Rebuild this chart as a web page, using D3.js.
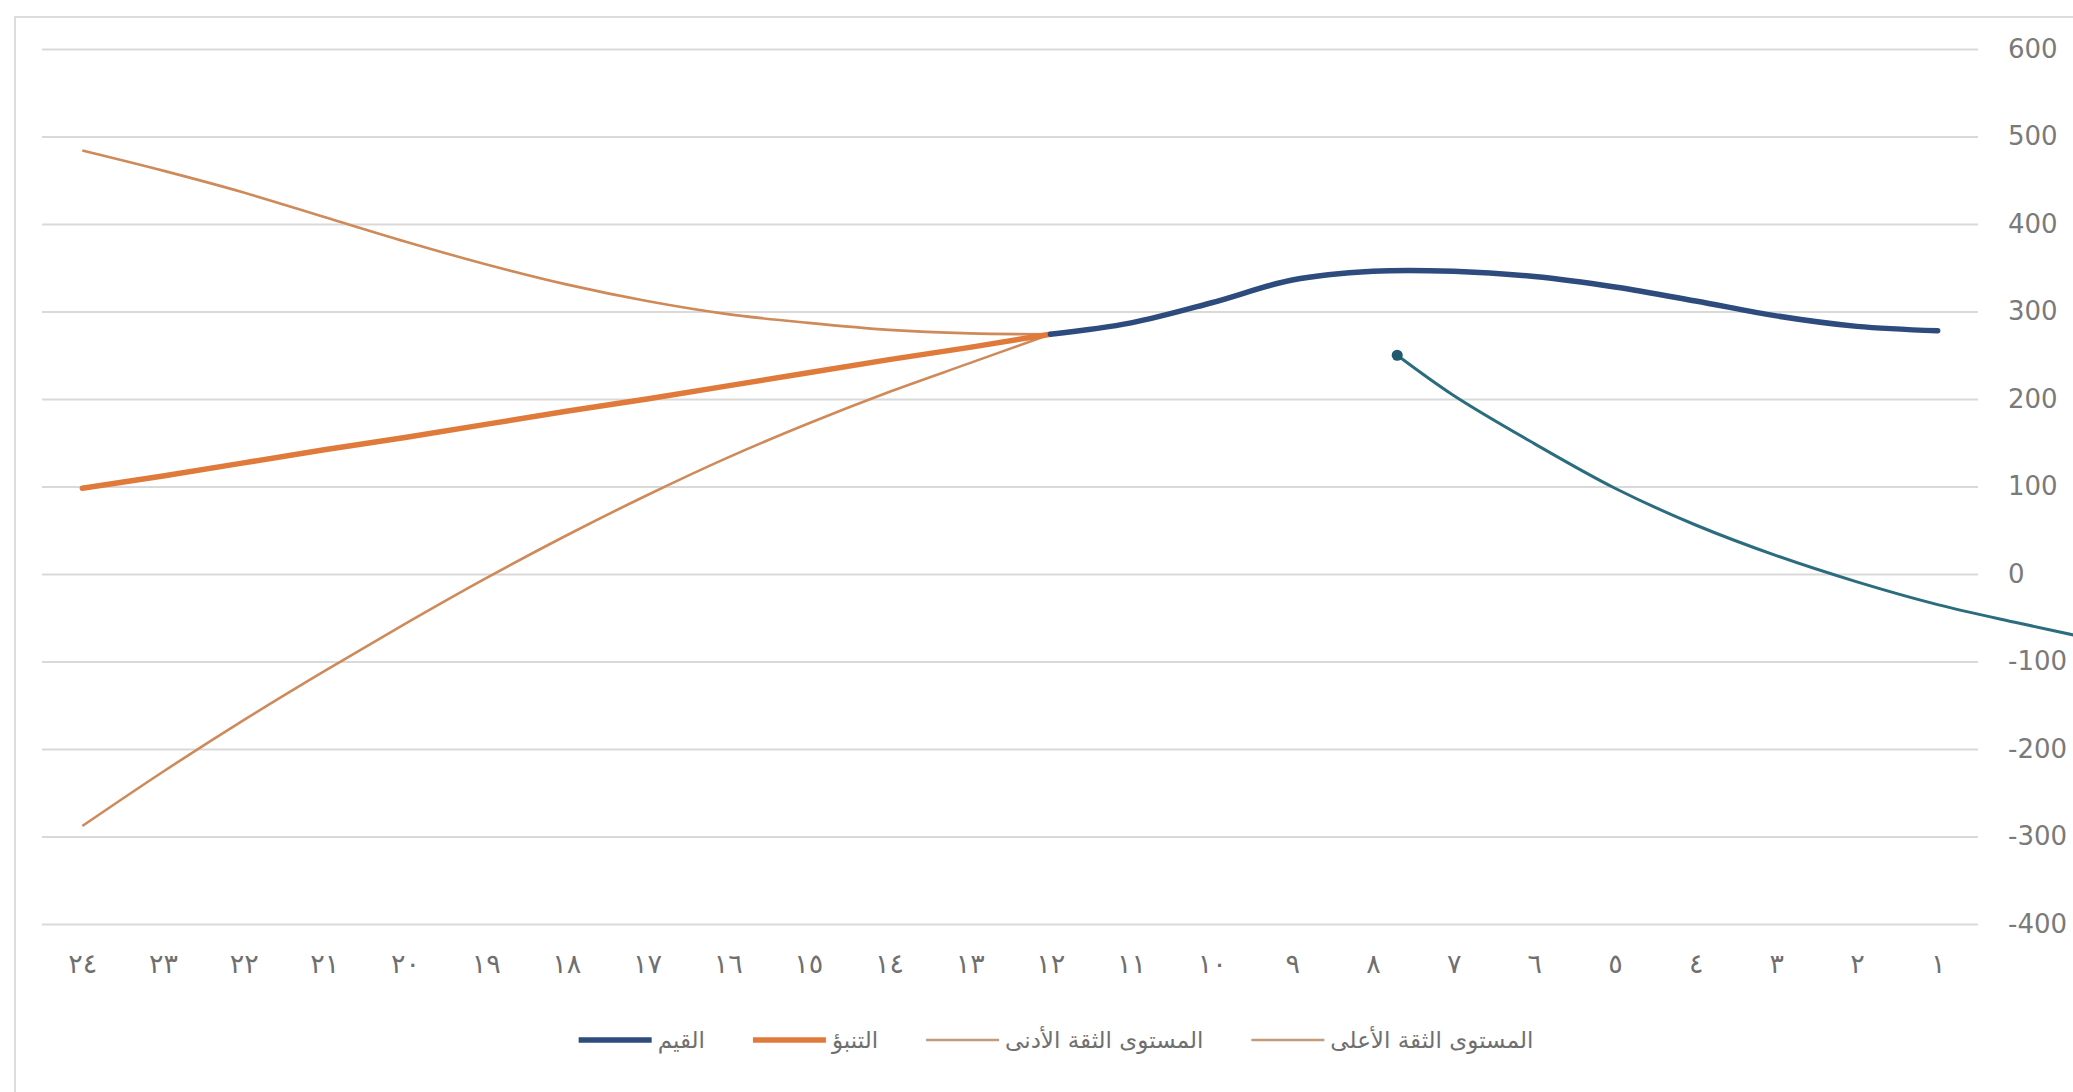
<!DOCTYPE html>
<html>
<head>
<meta charset="utf-8">
<script src="https://cdn.jsdelivr.net/npm/d3@7"></script>
<style>
  html, body { margin: 0; padding: 0; background: #ffffff; overflow: hidden; }
  svg { display: block; }
</style>
</head>
<body>
<svg id="chart" width="2073" height="1092"></svg>
<script>
// ---------- data ----------
const categories = [1,2,3,4,5,6,7,8,9,10,11,12,13,14,15,16,17,18,19,20,21,22,23,24];
const categoryLabels = ["١","٢","٣","٤","٥","٦","٧","٨","٩","١٠","١١","١٢","١٣","١٤","١٥","١٦","١٧","١٨","١٩","٢٠","٢١","٢٢","٢٣","٢٤"];
const yTicks = [-400,-300,-200,-100,0,100,200,300,400,500,600];

// القيم (values), categories 1..12
const valueCats = [1,2,3,4,5,6,7,8,9,10,11,12];
const values = [278,283,295,312,328,340,346,346,336,310,287,274];

// التنبؤ (forecast), categories 12..24
const forecastCats = [12,13,14,15,16,17,18,19,20,21,22,23,24];
const forecast = [274,259,245,230,215,200,186,171,156,142,127,112,98];
const lowerBound = [274,241,208,172,133,90,44,-5,-57,-111,-167,-226,-288];
const upperBound = [274,275,279,287,297,312,331,354,380,408,436,461,484];

// teal annotation curve (position in category units, value)
const curvePos = [7.7,7.0,6.0,5.0,4.0,3.0,2.0,1.0,0.0,-0.7,-1.2];
const curveVal = [250,204,149,98,56,21,-9,-35,-56,-70,-80];

const legendLabels = ["القيم","التنبؤ","المستوى الثقة الأدنى","المستوى الثقة الأعلى"];

// ---------- layout ----------
const svg = d3.select("#chart");
const plotLeft = 42, plotRight = 1978, plotTop = 49, plotBottom = 924;

const x = d3.scaleLinear().domain([0.5, 24.5]).range([plotRight, plotLeft]);
const y = d3.scaleLinear().domain([-400, 600]).range([plotBottom, plotTop]);

// chart border
svg.append("rect")
  .attr("x", 15).attr("y", 17).attr("width", 2100).attr("height", 1100)
  .attr("fill", "none").attr("stroke", "#dcdcdc").attr("stroke-width", 2);

// gridlines
const grid = svg.append("g").attr("transform", `translate(${plotRight},0)`)
  .call(d3.axisLeft(y).tickValues(yTicks).tickSize(plotRight - plotLeft).tickFormat(""));
grid.select(".domain").remove();
grid.selectAll(".tick line").attr("stroke", "#d9d9d9").attr("stroke-width", 2);

// y labels (right)
const yAx = svg.append("g").attr("transform", `translate(${plotRight + 30},0)`)
  .call(d3.axisRight(y).tickValues(yTicks).tickSize(0).tickPadding(0).tickFormat(d => String(d)));
yAx.select(".domain").remove();
yAx.selectAll("text").attr("fill", "#7a7a7a").style("font-family", "'DejaVu Sans', sans-serif")
  .style("font-size", "26px");

// x labels
const xAx = svg.append("g").attr("transform", `translate(0,${plotBottom + 30})`)
  .call(d3.axisBottom(x).tickValues(categories).tickSize(0).tickPadding(0)
    .tickFormat((d, i) => categoryLabels[i]));
xAx.select(".domain").remove();
xAx.selectAll("text").attr("fill", "#6f6f6f").style("font-family", "'DejaVu Sans', sans-serif")
  .style("font-size", "27px");

// lines
const smooth = d3.line().x(d => x(d[0])).y(d => y(d[1])).curve(d3.curveCatmullRom.alpha(0.5));
const straight = d3.line().x(d => x(d[0])).y(d => y(d[1]));

const upperData = forecastCats.map((c, i) => [c, upperBound[i]]);
const lowerData = forecastCats.map((c, i) => [c, lowerBound[i]]);
const fcData = forecastCats.map((c, i) => [c, forecast[i]]);
const valData = valueCats.map((c, i) => [c, values[i]]);
const curveData = curvePos.map((c, i) => [c, curveVal[i]]);

svg.append("path").attr("d", smooth(upperData)).attr("fill", "none")
  .attr("stroke", "#cf8a5a").attr("stroke-width", 2.6);
svg.append("path").attr("d", smooth(lowerData)).attr("fill", "none")
  .attr("stroke", "#cf8a5a").attr("stroke-width", 2.6);
svg.append("path").attr("d", straight(fcData)).attr("fill", "none")
  .attr("stroke", "#e07a3a").attr("stroke-width", 5.5).attr("stroke-linecap", "round");
svg.append("path").attr("d", smooth(valData)).attr("fill", "none")
  .attr("stroke", "#2e4b7d").attr("stroke-width", 5.5).attr("stroke-linecap", "round");

svg.append("path").attr("d", smooth(curveData)).attr("fill", "none")
  .attr("stroke", "#2b6d7e").attr("stroke-width", 3);
svg.append("circle").attr("cx", x(curvePos[0])).attr("cy", y(curveVal[0])).attr("r", 5.5)
  .attr("fill", "#1f5a6e");

// legend
const legendStyles = [
  {color: "#2e4b7d", w: 5.5},
  {color: "#e07a3a", w: 5.5},
  {color: "#c49a7a", w: 2.6},
  {color: "#c49a7a", w: 2.6}
];
const legendY = 1040;
const lg = svg.append("g");
const items = legendLabels.map((t, i) => {
  const g = lg.append("g");
  g.append("line").attr("x1", 0).attr("x2", 73).attr("y1", 0).attr("y2", 0)
    .attr("stroke", legendStyles[i].color).attr("stroke-width", legendStyles[i].w);
  const tx = g.append("text").attr("x", 79).attr("y", 0).attr("dy", "0.35em")
    .attr("fill", "#6f6f6f").style("font-family", "'DejaVu Sans', sans-serif")
    .style("font-size", "23px").text(t);
  const w = 79 + tx.node().getComputedTextLength();
  return {g, w};
});
const gap = 48;
const total = d3.sum(items, d => d.w) + gap * (items.length - 1);
let cx = 1056 - total / 2;
items.forEach(it => {
  it.g.attr("transform", `translate(${cx},${legendY})`);
  cx += it.w + gap;
});
</script>
</body>
</html>
